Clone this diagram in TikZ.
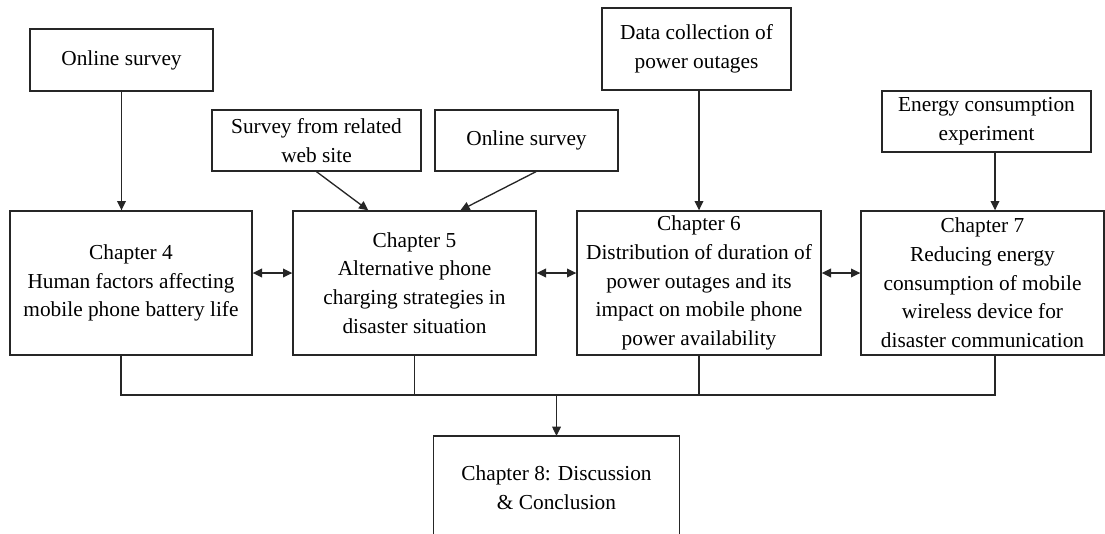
\documentclass[tikz,border=0pt]{standalone}
\usepackage{fontspec}
\setmainfont{Liberation Serif}
\usetikzlibrary{arrows.meta,calc}
\begin{document}
\begin{tikzpicture}[x=0.75pt,y=-0.75pt,
  box/.style={draw=black!85,line width=1pt,inner sep=0pt,align=center,
    font=\fontsize{16}{21.5}\selectfont},
  conn/.style={line width=1pt,black!85},
  arr/.style={conn,-{Triangle[length=7pt,width=6.5pt]}},
  darr/.style={conn,{Triangle[length=7pt,width=6.5pt]}-{Triangle[length=7pt,width=6.5pt]}}]
\useasboundingbox (0,0) rectangle (1105,533);
\node[box,minimum width=137.25pt,minimum height=46.5pt] (os1) at (121.5,60) {Online survey};
\node[box,minimum width=156.75pt,minimum height=45.75pt] (web) at (316.5,140.5) {Survey from related\\web site};
\node[box,minimum width=137.25pt,minimum height=45.75pt] (os2) at (526.5,140.5) {Online survey};
\node[box,minimum width=141.75pt,minimum height=61.5pt] (data) at (696.5,49) {Data collection of\\power outages};
\node[box,minimum width=156.75pt,minimum height=45.75pt] (energy) at (986.5,121.5) {Energy consumption\\experiment};
\node[box,minimum width=181.5pt,minimum height=108pt] (c4) at (131,283) {Chapter 4\\Human factors affecting\\mobile phone battery life};
\node[box,minimum width=182.25pt,minimum height=108pt] (c5) at (414.5,283) {Chapter 5\\Alternative phone\\charging strategies in\\disaster situation};
\node[box,minimum width=183pt,minimum height=108pt] (c6) at (699,283) {Chapter 6\\Distribution of duration of\\power outages and its\\impact on mobile phone\\power availability};
\node[box,minimum width=182.25pt,minimum height=108pt] (c7) at (982.5,283) {Chapter 7\\Reducing energy\\consumption of mobile\\wireless device for\\disaster communication};
\node[box,draw=none,minimum width=183.75pt,minimum height=76.5pt,anchor=north] (c8) at (556.5,436) {Chapter 8: Discussion\\\& Conclusion};
\coordinate (pgbot) at (0,540);
\draw[black!85,line width=1pt] (c8.west |- pgbot) -- (c8.north west) -- (c8.north east) -- (c8.east |- pgbot);
% inputs
\draw[arr] (os1.south) -- (os1.south |- c4.north);
\draw[arr] (web.south) -- ($(c5.north west)+(76,0)$);
\draw[arr] ($(os2.south)+(9.5,0)$) -- ($(c5.north west)+(168,0)$);
\draw[arr] (c6.north |- data.south) -- (c6.north);
\coordinate (j7) at (995,395);
\coordinate (j4) at (121,395);
\draw[arr] (energy.south -| j7) -- (c7.north -| j7);
% chapter links
\draw[darr] ($(c4.east)+(0,-10)$) -- ($(c5.west)+(0,-10)$);
\draw[darr] ($(c5.east)+(0,-10)$) -- ($(c6.west)+(0,-10)$);
\draw[darr] ($(c6.east)+(0,-10)$) -- ($(c7.west)+(0,-10)$);
% bus
\draw[conn] (c4.south -| j4) -- (j4) -- (j7) -- (c7.south -| j7);
\draw[conn] (c5.south) -- (c5.south |- j4);
\draw[conn] (c6.south) -- (c6.south |- j4);
\draw[arr] (c8.north |- j4) -- (c8.north);
\end{tikzpicture}
\end{document}
